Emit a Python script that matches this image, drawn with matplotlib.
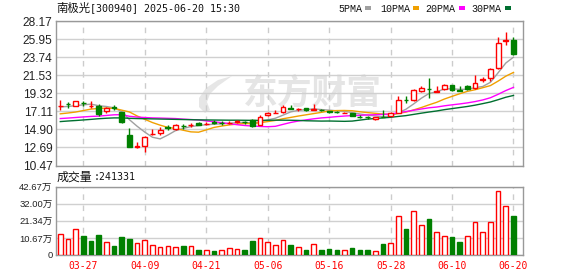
import matplotlib
matplotlib.use('Agg')
import matplotlib.pyplot as plt
from matplotlib.patches import Rectangle, Polygon
import numpy as np

# 南极光 300940 日K, 2025-03-24 .. 2025-06-20
dates = ['03-24', '03-25', '03-26', '03-27', '03-28', '03-31', '04-01', '04-02', '04-03', '04-07',
         '04-08', '04-09', '04-10', '04-11', '04-14', '04-15', '04-16', '04-17', '04-18', '04-21',
         '04-22', '04-23', '04-24', '04-25', '04-28', '04-29', '04-30', '05-06', '05-07', '05-08',
         '05-09', '05-12', '05-13', '05-14', '05-15', '05-16', '05-19', '05-20', '05-21', '05-22',
         '05-23', '05-26', '05-27', '05-28', '05-29', '05-30', '06-03', '06-04', '06-05', '06-06',
         '06-09', '06-10', '06-11', '06-12', '06-13', '06-16', '06-17', '06-18', '06-19', '06-20']

opens = [17.70, 18.03, 17.80, 18.15, 17.70, 17.80, 17.19, 17.60, 16.99, 14.21,
         12.75, 12.82, 14.28, 14.41, 15.15, 15.00, 15.33, 15.45, 15.66, 15.57,
         15.76, 15.72, 15.68, 15.82, 15.80, 16.00, 15.45, 16.60, 16.84, 17.02,
         17.50, 17.34, 17.52, 17.30, 17.30, 17.10, 17.00, 16.90, 16.86, 16.45,
         16.40, 16.17, 16.45, 16.55, 16.94, 18.55, 18.45, 19.55, 19.86, 19.51,
         19.80, 20.29, 19.72, 20.25, 19.92, 21.00, 21.15, 22.37, 25.76, 25.80]
highs = [18.50, 18.21, 18.42, 18.38, 18.34, 18.05, 17.60, 17.89, 17.07, 15.02,
         13.35, 14.12, 14.94, 15.15, 15.40, 15.55, 15.60, 15.70, 15.78, 15.75,
         16.00, 15.97, 15.95, 16.10, 15.95, 16.12, 16.61, 17.02, 17.27, 17.88,
         17.85, 17.50, 17.56, 17.96, 17.40, 17.20, 17.10, 16.98, 16.90, 16.60,
         16.50, 16.45, 17.27, 16.98, 18.98, 18.94, 19.80, 20.17, 21.23, 20.17,
         20.41, 20.33, 20.17, 20.33, 21.56, 21.36, 22.45, 26.25, 26.78, 26.20]
lows = [17.25, 17.52, 17.72, 17.72, 17.52, 16.58, 16.90, 17.31, 15.72, 12.75,
        12.57, 12.16, 14.25, 14.25, 14.85, 14.85, 14.95, 15.20, 15.40, 15.45,
        15.50, 15.45, 15.50, 15.65, 15.60, 15.23, 15.38, 16.55, 16.84, 16.90,
        17.33, 17.20, 17.20, 17.25, 17.20, 16.95, 16.90, 16.85, 16.55, 16.25,
        16.20, 16.10, 16.40, 16.50, 16.90, 18.12, 18.37, 19.51, 18.78, 19.51,
        19.68, 19.59, 19.59, 19.72, 19.80, 20.66, 20.86, 22.30, 25.23, 23.95]
closes = [17.78, 17.98, 18.34, 18.10, 17.75, 16.78, 17.52, 17.50, 15.84, 12.75,
          12.80, 13.92, 14.33, 14.86, 15.10, 15.47, 15.29, 15.49, 15.47, 15.61,
          15.72, 15.68, 15.73, 15.86, 15.75, 15.35, 16.45, 16.86, 16.88, 17.67,
          17.35, 17.38, 17.28, 17.35, 17.26, 17.00, 16.98, 16.94, 16.58, 16.41,
          16.35, 16.41, 16.43, 16.94, 18.49, 18.53, 19.68, 19.92, 19.82, 19.55,
          20.29, 19.72, 19.62, 19.84, 20.53, 21.03, 22.29, 25.44, 25.80, 24.15]

# 成交量 (万手), 红/绿 follows close vs previous close
volumes = [13.1, 9.8, 16.0, 11.9, 8.7, 12.5, 8.1, 5.6, 11.2, 10.0,
           7.5, 9.4, 6.2, 4.8, 5.6, 4.8, 5.6, 5.6, 3.1, 2.9,
           2.5, 2.9, 4.2, 3.7, 3.1, 8.7, 10.4, 8.1, 6.2, 9.2,
           6.2, 4.8, 3.1, 6.9, 3.1, 3.7, 3.1, 2.9, 4.4, 3.1,
           3.1, 2.3, 6.9, 7.5, 24.4, 16.2, 27.5, 18.7, 22.5, 14.4,
           11.9, 11.2, 8.1, 11.9, 20.6, 14.4, 20.6, 40.0, 30.6, 24.13]
vol_up = [1, 1, 1, 0, 0, 0, 1, 0, 0, 0,
          1, 1, 1, 1, 1, 1, 0, 1, 0, 1,
          0, 1, 1, 1, 0, 0, 1, 1, 1, 1,
          0, 1, 0, 1, 0, 0, 0, 1, 0, 0,
          0, 1, 0, 1, 1, 0, 1, 1, 0, 1,
          1, 0, 0, 1, 1, 1, 1, 1, 1, 0]

ma5 = [17.65, 17.70, 17.80, 17.90, 17.99, 17.79, 17.70, 17.53, 17.08, 16.08,
       15.28, 14.56, 13.93, 13.73, 14.20, 14.74, 15.01, 15.24, 15.36, 15.47,
       15.52, 15.59, 15.64, 15.72, 15.75, 15.67, 15.83, 16.05, 16.26, 16.64,
       17.04, 17.23, 17.31, 17.41, 17.32, 17.25, 17.17, 17.11, 16.95, 16.78,
       16.65, 16.54, 16.44, 16.51, 16.92, 17.36, 18.01, 18.71, 19.29, 19.50,
       19.85, 19.86, 19.80, 19.80, 20.00, 20.15, 20.66, 21.83, 23.02, 23.74]
ma10 = [16.80, 16.90, 17.02, 17.20, 17.38, 17.46, 17.50, 17.47, 17.25, 17.03,
        16.54, 16.13, 15.73, 15.41, 15.14, 15.01, 14.79, 14.59, 14.55, 14.83,
        15.13, 15.30, 15.44, 15.54, 15.61, 15.60, 15.71, 15.85, 15.99, 16.20,
        16.36, 16.53, 16.68, 16.83, 16.98, 17.15, 17.20, 17.21, 17.18, 17.05,
        16.95, 16.86, 16.77, 16.73, 16.85, 17.01, 17.28, 17.57, 17.90, 18.21,
        18.61, 18.94, 19.26, 19.55, 19.75, 20.00, 20.26, 20.81, 21.41, 21.87]
ma20 = [16.22, 16.28, 16.35, 16.42, 16.48, 16.52, 16.60, 16.68, 16.70, 16.50,
        16.40, 16.35, 16.30, 16.28, 16.25, 16.22, 16.15, 16.10, 16.05, 15.93,
        15.83, 15.72, 15.59, 15.47, 15.37, 15.30, 15.25, 15.22, 15.27, 15.51,
        15.74, 15.92, 16.06, 16.19, 16.30, 16.37, 16.46, 16.53, 16.58, 16.62,
        16.66, 16.69, 16.73, 16.78, 16.92, 17.08, 17.24, 17.39, 17.54, 17.63,
        17.78, 17.90, 18.01, 18.14, 18.30, 18.50, 18.77, 19.19, 19.65, 20.04]
ma30 = [15.85, 15.92, 15.98, 16.05, 16.12, 16.20, 16.26, 16.30, 16.30, 16.25,
        16.22, 16.20, 16.18, 16.16, 16.14, 16.12, 16.10, 16.08, 16.06, 16.05,
        16.04, 16.03, 16.02, 16.02, 16.01, 16.00, 16.00, 16.01, 16.02, 16.02,
        16.01, 15.99, 15.95, 15.93, 15.91, 15.92, 15.90, 15.88, 15.91, 16.03,
        16.15, 16.23, 16.30, 16.37, 16.48, 16.58, 16.73, 16.88, 17.02, 17.15,
        17.31, 17.44, 17.57, 17.70, 17.86, 18.05, 18.25, 18.53, 18.83, 19.05]

price_labels = ['10.47', '12.69', '14.90', '17.11', '19.32', '21.53', '23.74', '25.95', '28.17']
vol_labels = ['0', '10.67万', '21.34万', '32.00万', '42.67万']
date_labels = ['03-27', '04-09', '04-21', '05-06', '05-16', '05-28', '06-10', '06-20']

RED = '#ff0000'
GREEN = '#008000'
MA_COLORS = ['#a0a0a0', '#f0a000', '#ff00ff', '#006f30']
CJK = ['Noto Sans CJK SC', 'DejaVu Sans']

W, H = 578, 276
fig = plt.figure(figsize=(W / 100, H / 100), dpi=100)
ax = fig.add_axes([56 / W, 1 - 165.5 / H, 466.7 / W, 144.5 / H])
axv = fig.add_axes([56 / W, 1 - 255 / H, 466.7 / W, 68.3 / H])

x = np.arange(len(dates))
o = np.array(opens)
c = np.array(closes)
up = c >= o
col = np.where(up, RED, GREEN)

# watermark (logo swoosh + 东方财富)
swoosh = [(232, 76), (218, 80), (206, 88), (199, 98), (199, 107), (205, 113),
          (210, 110), (207, 102), (210, 94), (218, 86)]
fig.add_artist(Polygon([(px / W, 1 - py / H) for px, py in swoosh], closed=True,
                       transform=fig.transFigure, color='#e6e6e6', lw=0, zorder=0))
ax.text(0.55, 0.505, '东方财富', transform=ax.transAxes, ha='center', va='center',
        fontsize=25, fontweight='bold', color='#e5e5e5', family=CJK, zorder=0)

# K线
bot = np.minimum(o, c)
top = np.maximum(o, c)
ax.vlines(x, lows, bot, colors=col, linewidth=1, zorder=3)
ax.vlines(x, top, highs, colors=col, linewidth=1, zorder=3)
ax.bar(x, top - bot, bottom=bot, width=0.62, color=np.where(up, 'white', GREEN),
       edgecolor=col, linewidth=1, zorder=4)

for ma, mc in zip([ma5, ma10, ma20, ma30], MA_COLORS):
    ax.plot(x, ma, color=mc, linewidth=1, zorder=2)

# 成交量
vcol = np.where(np.array(vol_up) == 1, RED, GREEN)
axv.bar(x, np.array(volumes) * 1e4, width=0.6,
        color=np.where(np.array(vol_up) == 1, 'white', GREEN),
        edgecolor=vcol, linewidth=1, zorder=3)

xt = [dates.index(d) for d in date_labels]
for a in (ax, axv):
    a.set_xlim(-0.56, 60.2)
    a.set_xticks(xt)
    a.patch.set_alpha(0)
    for s in a.spines.values():
        s.set_color('#999999')
        s.set_linewidth(1)
    a.grid(axis='y', color='#d0d0d0', linewidth=1)
    a.grid(axis='x', color='#cccccc', linewidth=1, linestyle=(0, (4, 4)))
    a.set_axisbelow(True)
    a.tick_params(length=0)

ax.set_ylim(10.47, 28.17)
ax.set_yticks(np.linspace(10.47, 28.17, 9))
ax.set_yticklabels(price_labels, family='Liberation Sans', fontsize=8.6, color='#222222')
ax.tick_params(axis='y', pad=2.5)
ax.set_xticklabels([])

axv.set_ylim(0, 426700)
axv.set_yticks(np.linspace(0, 426700, 5))
axv.set_yticklabels(vol_labels, family=['Liberation Sans', 'Noto Sans CJK SC'],
                    fontsize=6.8, color='#222222')
axv.tick_params(axis='y', pad=2.5)
axv.set_xticklabels(date_labels, family='DejaVu Sans Mono', fontsize=7, color=RED)
axv.tick_params(axis='x', pad=4)

# titles
fig.text(56 / W, 1 - 8.5 / H, '南极光', family=CJK, fontsize=8.2, va='center', color='#111111')
fig.text(90.5 / W, 1 - 8.5 / H, '[300940] 2025-06-20 15:30', family='DejaVu Sans Mono',
         fontsize=7.2, va='center', color='#111111')
fig.text(57 / W, 1 - 177 / H, '成交量', family=CJK, fontsize=8.6, va='center', color='#111111')
fig.text(93.5 / W, 1 - 177 / H, ':241331', family='DejaVu Sans Mono', fontsize=7.1,
         va='center', color='#111111')

# legend
leg = ['5PMA', '10PMA', '20PMA', '30PMA']
leg_x = [338.3, 380, 425.7, 471.7]
for name, lx, mc in zip(leg, leg_x, MA_COLORS):
    fig.text(lx / W, 1 - 8.5 / H, name, family='Liberation Mono', fontsize=7.2,
             va='center', color='#111111')
    mx = lx + len(name) * 6 + 3
    fig.add_artist(Rectangle((mx / W, 1 - 10 / H), 6 / W, 3.5 / H,
                             transform=fig.transFigure, color=mc, lw=0))

fig.savefig('out.png', dpi=100)
